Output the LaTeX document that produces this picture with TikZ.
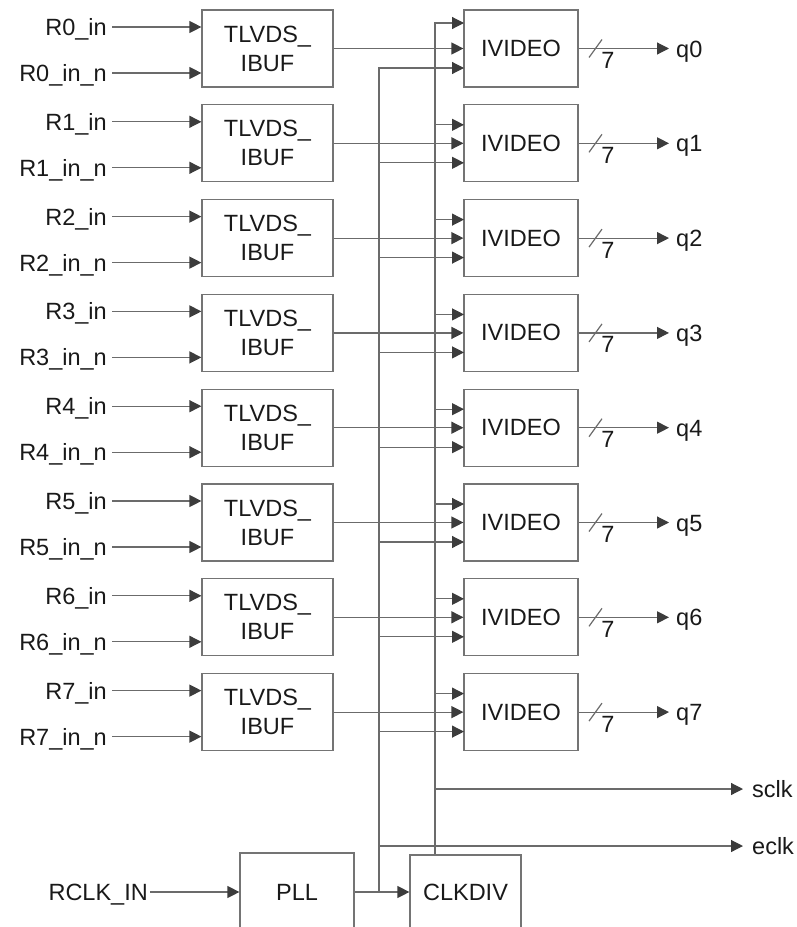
\documentclass[tikz,border=0pt]{standalone}
\usepackage{fontspec}
\setmainfont{Liberation Sans}
\usetikzlibrary{arrows.meta,positioning}
\definecolor{wire}{HTML}{6B6B6B}
\definecolor{tipc}{HTML}{3C3C3C}
\definecolor{boxc}{HTML}{747474}
\begin{document}
\begin{tikzpicture}[x=1pt,y=-1pt,
font=\fontsize{23.5}{29}\selectfont,
blk/.style={draw=boxc,line width=1.2pt,align=center,inner sep=0pt,text=black!90},
bufbox/.style={blk,minimum width=131pt,minimum height=77pt},
vidbox/.style={blk,minimum width=114pt,minimum height=77pt},
lbl/.style={inner sep=0pt,inner xsep=5pt,text height=17pt,text depth=0pt,text=black!90},
sig/.style={draw=wire,line width=1.2pt,-{Triangle[length=12pt,width=12pt,color=tipc]}},
wireline/.style={draw=wire,line width=1.2pt}]
\useasboundingbox (0,0) rectangle (797,927);
\clip (0,0) rectangle (797,927);
\coordinate (ebus) at (379,0);
\coordinate (sbus) at (435,0);
% eight input channels
\foreach \i in {0,...,7}{
  \pgfmathsetmacro\rowtop{10+94.8*\i}
  \pgfmathsetmacro\tin{\i==0 ? 13 : 20}
  \node[bufbox] (buf\i) at (267.5,\rowtop+38.5) {TLVDS\_\\IBUF};
  \node[vidbox] (vid\i) at (521,\rowtop+38.5) {IVIDEO};
  \node[lbl,anchor=east] (rp\i) at (112,\rowtop+17) {R\i\_in};
  \node[lbl,anchor=east] (rn\i) at (112,\rowtop+63) {R\i\_in\_n};
  \draw[sig] (rp\i.east) -- (rp\i.east -| buf\i.west);
  \draw[sig] (rn\i.east) -- (rn\i.east -| buf\i.west);
  \draw[sig] (buf\i.east) -- (vid\i.west);
  \coordinate (vt\i) at (464,\rowtop+\tin);
  \coordinate (vb\i) at (464,\rowtop+58);
  \node[lbl,anchor=west,inner xsep=7pt] (q\i) at (669,\rowtop+38.5) {q\i};
  \draw[sig] (vid\i.east) -- (q\i.west);
  \draw[wireline] (589,\rowtop+47.5) -- ++(13,-18);
  \node[lbl,inner xsep=0pt] (w\i) at (608,\rowtop+50) {7};
}
% clock taps into IVIDEO
\foreach \i in {1,...,7}{
  \draw[sig] (sbus |- vt\i) -- (vt\i);
  \draw[sig] (ebus |- vb\i) -- (vb\i);
}
% clock generation
\node[blk,minimum width=114pt,minimum height=78pt] (pll) at (297,892) {PLL};
\node[blk,minimum width=111pt,minimum height=74pt] (clk) at (465.5,892) {CLKDIV};
\node[lbl,anchor=east,inner xsep=2pt] (rclk) at (150,892) {RCLK\_IN};
\draw[sig] (rclk.east) -- (pll.west);
\draw[sig] (pll.east) -- (clk.west);
\draw[sig] (pll.east -| ebus) |- (vb0);
\draw[sig] (clk.north -| sbus) |- (vt0);
\node[lbl,anchor=west,inner xsep=9pt] (sclk) at (743,789) {sclk};
\node[lbl,anchor=west,inner xsep=9pt] (eclk) at (743,846) {eclk};
\draw[sig] (sbus |- sclk) -- (sclk.west);
\draw[sig] (ebus |- eclk) -- (eclk.west);
\end{tikzpicture}
\end{document}
